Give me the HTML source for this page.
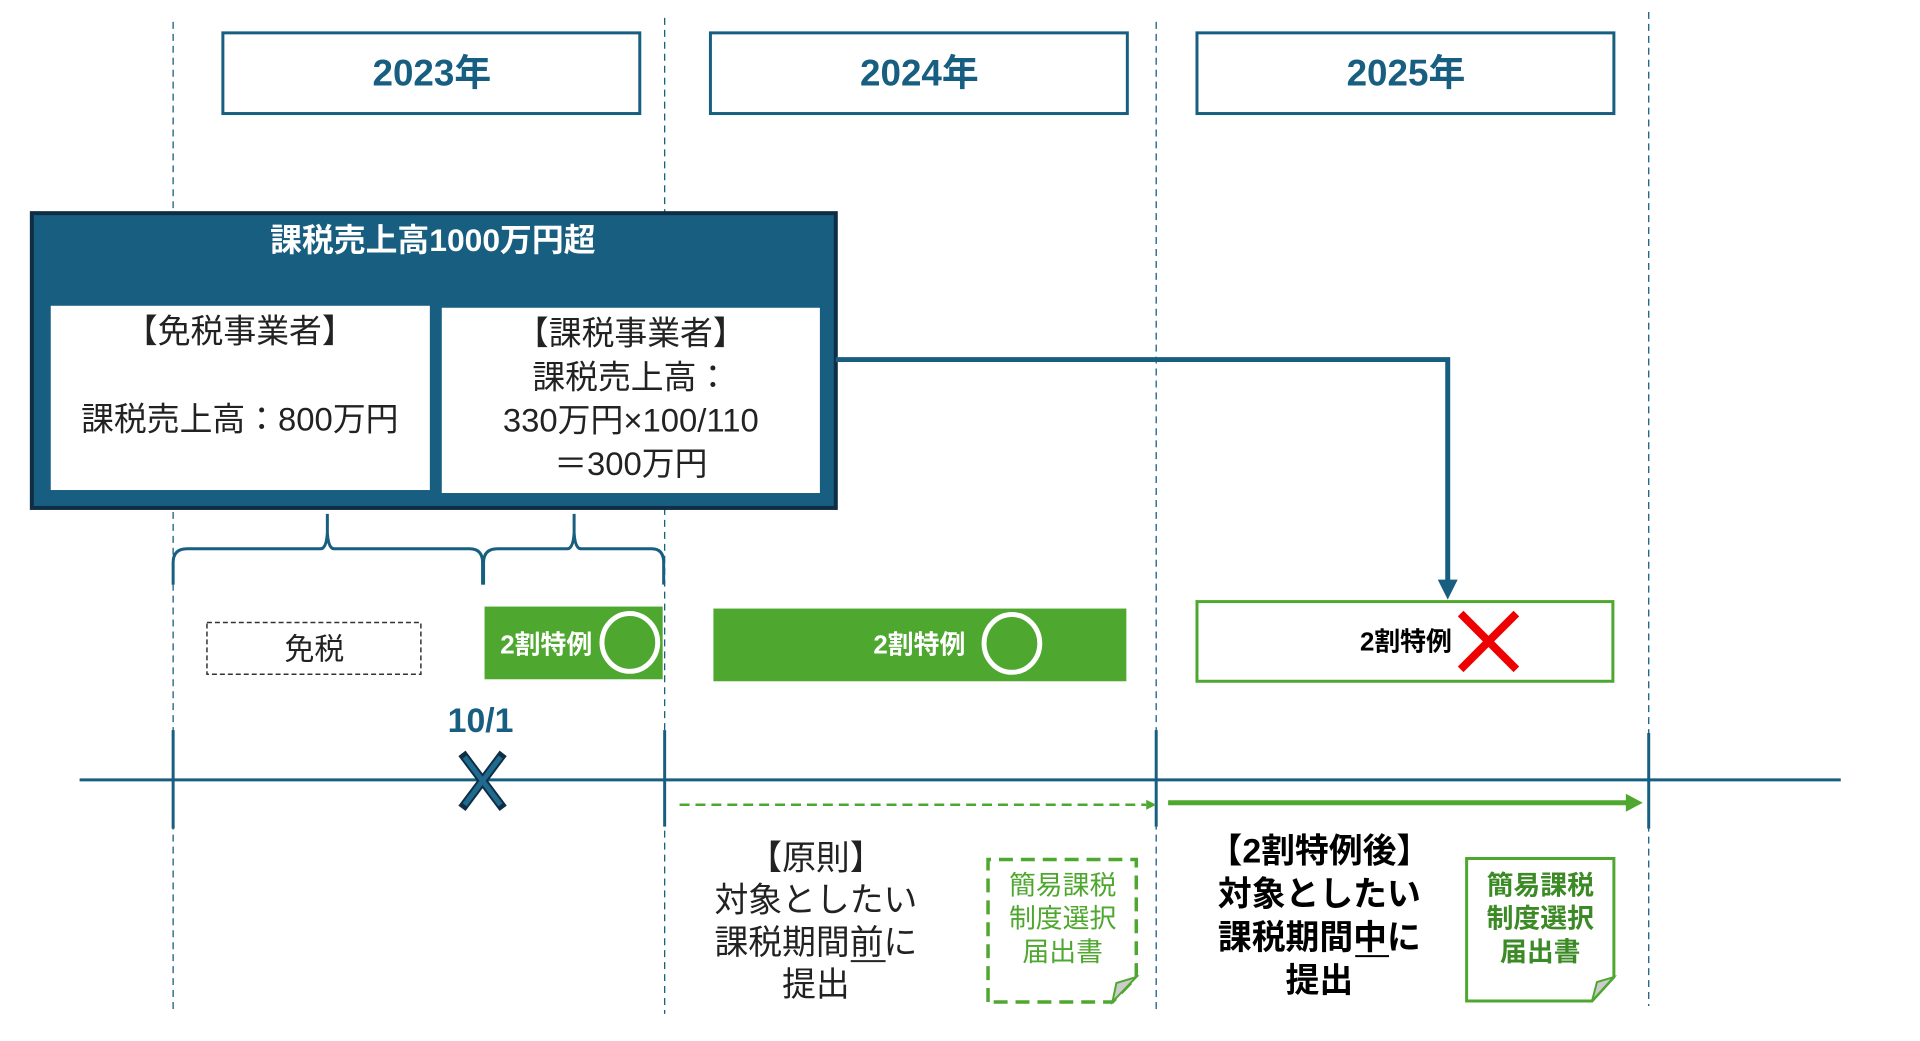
<!DOCTYPE html>
<html><head><meta charset="utf-8"><style>
html,body{margin:0;padding:0;background:#fff;}
svg{display:block;}
text{font-family:"Liberation Sans","Noto Sans CJK JP",sans-serif;}
</style></head><body>
<svg width="1920" height="1041" viewBox="0 0 1920 1041" xmlns="http://www.w3.org/2000/svg">
<defs>
<marker id="ab" markerWidth="4" markerHeight="4" refX="2" refY="2" orient="auto" markerUnits="strokeWidth"><path d="M0,0 L4,2 L0,4 z" fill="#175e80"/></marker>
</defs>
<g transform="scale(0.995 0.996)">
<g stroke="#175e80" stroke-width="1.3" stroke-dasharray="7,5">
<line x1="174" y1="22" x2="174" y2="1018"/>
<line x1="668" y1="18" x2="668" y2="1018"/>
<line x1="1162" y1="22" x2="1162" y2="1018"/>
<line x1="1657" y1="12" x2="1657" y2="1010"/>
</g>
<g fill="#fff" stroke="#175e80" stroke-width="3">
<rect x="224" y="33" width="419" height="81"/>
<rect x="714" y="33" width="419" height="81"/>
<rect x="1203" y="33" width="419" height="81"/>
</g>
<g fill="#175e80" font-size="37" font-weight="bold" text-anchor="middle">
<text x="434" y="86">2023年</text>
<text x="924" y="86">2024年</text>
<text x="1413" y="86">2025年</text>
</g>
<rect x="32" y="214" width="808" height="296" fill="#175e80" stroke="#0f2e45" stroke-width="4"/>
<text x="435" y="252" fill="#fff" font-size="32" font-weight="bold" text-anchor="middle">課税売上高1000万円超</text>
<rect x="51" y="307" width="381" height="185" fill="#fff"/>
<rect x="444" y="309" width="380" height="186" fill="#fff"/>
<g font-size="33" fill="#222" text-anchor="middle">
<text x="241" y="344">【免税事業者】</text>
<text x="241" y="432">課税売上高：800万円</text>
<text x="634" y="346">【課税事業者】</text>
<text x="634" y="390">課税売上高：</text>
<text x="634" y="433">330万円×100/110</text>
<text x="634" y="477">＝300万円</text>
</g>
<polyline points="840,361 1455,361 1455,592" fill="none" stroke="#175e80" stroke-width="5" marker-end="url(#ab)"/>
<g fill="none" stroke="#175e80" stroke-width="3">
<path d="M174,587 L174,565 Q174,551 188,551 L322,551 Q328,551 329,535 L329,516 L329,535 Q330,551 336,551 L472,551 Q485,551 485,565 L485,587"/>
<path d="M486,587 L486,565 Q486,551 500,551 L570,551 Q576,551 577,535 L577,516 L577,535 Q578,551 584,551 L655,551 Q667,551 667,565 L667,587"/>
</g>
<rect x="208" y="625" width="215" height="52" fill="#fff" stroke="#333" stroke-width="1.5" stroke-dasharray="5,3"/>
<text x="316" y="662" font-size="30" fill="#222" text-anchor="middle">免税</text>
<rect x="487" y="609" width="179" height="73" fill="#4ea72e"/>
<text x="549" y="656" font-size="26" font-weight="bold" fill="#fff" text-anchor="middle">2割特例</text>
<ellipse cx="633" cy="645" rx="28" ry="29" fill="none" stroke="#fff" stroke-width="5"/>
<rect x="717" y="611" width="415" height="73" fill="#4ea72e"/>
<text x="924" y="656" font-size="26" font-weight="bold" fill="#fff" text-anchor="middle">2割特例</text>
<ellipse cx="1017" cy="646" rx="28" ry="29" fill="none" stroke="#fff" stroke-width="5"/>
<rect x="1203" y="604" width="418" height="80" fill="#fff" stroke="#4ea72e" stroke-width="3"/>
<text x="1413" y="653" font-size="26" font-weight="bold" fill="#000" text-anchor="middle">2割特例</text>
<g stroke="#ee0000" stroke-width="8"><line x1="1468" y1="616" x2="1524" y2="672"/><line x1="1524" y1="616" x2="1468" y2="672"/></g>
<line x1="80" y1="783" x2="1850" y2="783" stroke="#175e80" stroke-width="3"/>
<g stroke="#175e80" stroke-width="3">
<line x1="174" y1="733" x2="174" y2="832"/>
<line x1="668" y1="733" x2="668" y2="830"/>
<line x1="1162" y1="733" x2="1162" y2="830"/>
<line x1="1657" y1="736" x2="1657" y2="832"/>
</g>
<text x="483" y="735" font-size="34" font-weight="bold" fill="#175e80" text-anchor="middle">10/1</text>
<g stroke="#0f2e45" stroke-width="9" stroke-linecap="square"><line x1="467" y1="760" x2="503" y2="808"/><line x1="503" y1="760" x2="467" y2="808"/></g>
<g stroke="#1f6a8f" stroke-width="5"><line x1="467" y1="760" x2="503" y2="808"/><line x1="503" y1="760" x2="467" y2="808"/></g>
<line x1="683" y1="808" x2="1152" y2="808" stroke="#4ea72e" stroke-width="2.5" stroke-dasharray="10,6"/>
<path d="M1152,803 L1162,808 L1152,813 z" fill="#4ea72e"/>
<line x1="1174" y1="806" x2="1638" y2="806" stroke="#4ea72e" stroke-width="5"/>
<path d="M1634,797 L1651,806 L1634,815 z" fill="#4ea72e"/>
<g font-size="34" fill="#222" text-anchor="middle">
<text x="820" y="873">【原則】</text>
<text x="820" y="915">対象としたい</text>
<text x="820" y="958">課税期間前に</text>
<text x="820" y="1000">提出</text>
</g>
<line x1="855" y1="965" x2="890" y2="965" stroke="#222" stroke-width="2"/>
<g transform="translate(6 5)">
<path d="M987,1001 L987,858 L1136,858 L1136,976 L1112,1001 Z" fill="#fff" stroke="#4ea72e" stroke-width="3.5" stroke-dasharray="14,8"/>
<path d="M1112,1001 L1116,982 L1136,976 Z" fill="#ccc" stroke="#4ea72e" stroke-width="2"/>
<g font-size="27" fill="#4ea72e" text-anchor="middle">
<text x="1062" y="893">簡易課税</text>
<text x="1062" y="926">制度選択</text>
<text x="1062" y="960">届出書</text>
</g>
</g>
<g font-size="34" font-weight="bold" fill="#000" text-anchor="middle">
<text x="1326" y="866">【2割特例後】</text>
<text x="1326" y="909">対象としたい</text>
<text x="1326" y="953">課税期間中に</text>
<text x="1326" y="996">提出</text>
</g>
<line x1="1362" y1="960" x2="1396" y2="960" stroke="#000" stroke-width="2"/>
<g transform="translate(7 5)">
<path d="M1467,1000 L1467,857 L1615,857 L1615,976 L1593,1000 Z" fill="#fff" stroke="#4ea72e" stroke-width="3"/>
<path d="M1593,1000 L1598,981 L1615,976 Z" fill="#ccc" stroke="#4ea72e" stroke-width="2"/>
<g font-size="27" font-weight="bold" fill="#3c8a25" text-anchor="middle">
<text x="1541" y="893">簡易課税</text>
<text x="1541" y="926">制度選択</text>
<text x="1541" y="960">届出書</text>
</g>
</g>
</g>
</svg>
</body></html>
